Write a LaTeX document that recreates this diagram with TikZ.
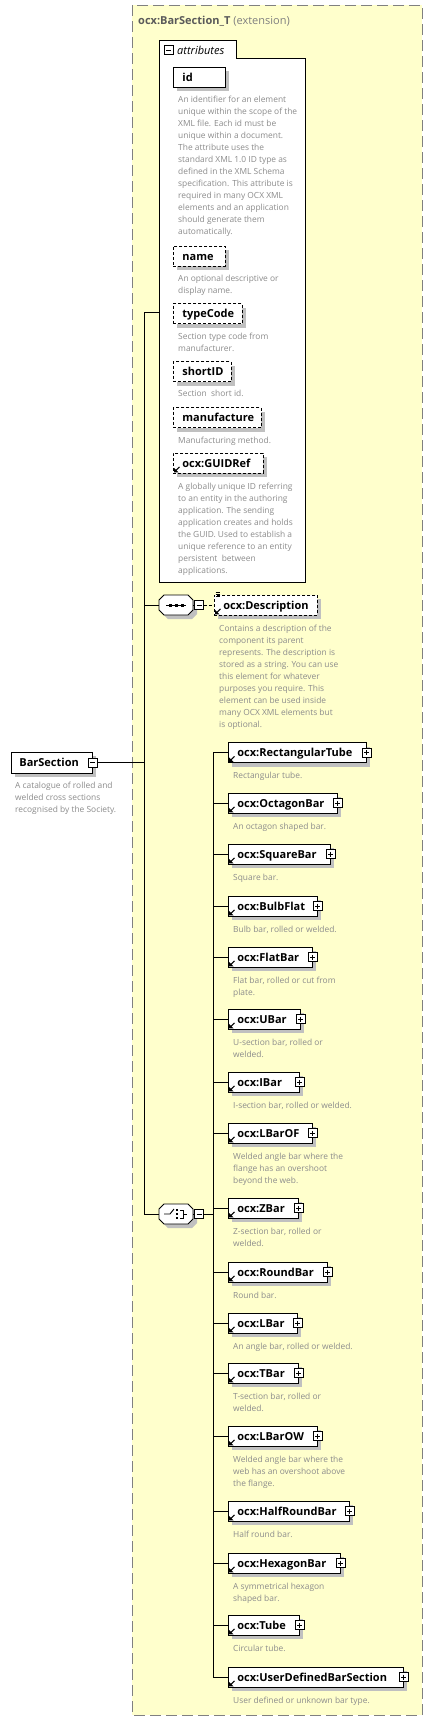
\documentclass[tikz,border=0pt]{standalone}
\usepackage{fontspec}
\setmainfont{Open Sans}
\usetikzlibrary{shadows,calc}
\definecolor{bgyellow}{RGB}{255,255,204}
\definecolor{framegray}{RGB}{128,128,128}
\definecolor{shgray}{RGB}{192,192,192}
\definecolor{descgray}{RGB}{140,140,140}
\definecolor{titlegray}{RGB}{90,90,90}
\definecolor{extgray}{RGB}{128,128,128}

\newcommand\xsdplus[1]{%
  \begin{scope}[shift={(#1.east)}]
    \draw[icon] (-4.5,-4.5) rectangle (4.5,4.5);
    \draw[iconline] (-2.5,0) -- (2.5,0) (0,-2.5) -- (0,2.5);
  \end{scope}}
\newcommand\xsdminus[1]{%
  \begin{scope}[shift={(#1.center)}]
    \draw[iconline] (-2.5,0) -- (2.5,0);
  \end{scope}}
\newcommand\xsdlink[1]{%
  \begin{scope}[shift={(#1.south west)}]
    \fill (1,-1) -- (5.5,-1) -- (1,-5.5) -- cycle;
    \draw[line width=1.1pt] (2.5,-2.5) -- (6.5,-6.5);
  \end{scope}}
\newcommand\xsddesc[4]{%
  \node[desc] (#1) at (#2,{#3-6.1}) {\strut #4};}
\newcommand\xsdchild[5]{%
  \pgfmathsetmacro\xsdw{#4-228}%
  \pgfmathsetmacro\xsdtw{#4-246}%
  \coordinate (bus-#1) at (213,#3);
  \node[elembox, minimum width=\xsdw pt, text width=\xsdtw pt] (#1) at (228,#3) {#2};
  \xsdlink{#1}
  \xsdplus{#1}
  \draw[conn] (bus-#1) -- (#1.west);
  \xsddesc{#1-d}{233}{#3+23.5}{#5}}
\newcommand\xsdoct[1]{%
  \begin{scope}[shift={(#1.center)}]
    \fill[shgray] (-8,-6)--(16,-6)--(21,-1)--(21,9)--(16,14)--(-8,14)--(-13,9)--(-13,-1)--cycle;
    \draw[fill=white, line width=0.8pt] (-12,-10)--(12,-10)--(17,-5)--(17,5)--(12,10)--(-12,10)--(-17,5)--(-17,-5)--cycle;
  \end{scope}}

\begin{document}
\begin{tikzpicture}[x=1pt,y=-1pt,
  conn/.style={draw=black, line width=0.9pt},
  icon/.style={draw=black, fill=white, line width=0.8pt},
  iconline/.style={line width=0.8pt},
  elembox/.style={draw=black, fill=white, line width=0.8pt,
    general shadow={fill=shgray, shadow xshift=4pt, shadow yshift=-4pt},
    anchor=west, minimum height=20pt, inner xsep=9pt, inner ysep=0pt,
    text height=8pt, text depth=0pt, align=left,
    font=\fontsize{11}{13}\selectfont\bfseries},
  optbox/.style={elembox, dash pattern=on 3pt off 2pt},
  desc/.style={anchor=north west, inner sep=0pt, align=left, text=descgray,
    font=\fontsize{8.4}{12}\selectfont},
  hub/.style={minimum width=34pt, minimum height=20pt, inner sep=0pt},
  sq/.style={draw=black, fill=white, line width=0.8pt, minimum size=9pt, inner sep=0pt}
]
\useasboundingbox (0,0) rectangle (432,1722);
\fill[white] (0,0) rectangle (432,1722);
\draw[fill=bgyellow, draw=framegray, line width=1pt, dash pattern=on 11pt off 5pt] (132,5) rectangle (422,1715);
\node[anchor=base west, inner sep=0pt, font=\fontsize{11}{13}\selectfont] (title) at (138,24)
  {\textcolor{titlegray}{\bfseries ocx:BarSection\_T} \textcolor{extgray}{(extension)}};

% attributes frame
\node[minimum width=146pt, minimum height=542pt, anchor=north west, inner sep=0pt] (attrs) at (159,40) {};
\draw[fill=white, line width=0.8pt] (159,40) -- (236,40) -- (236,58) -- (305,58) -- (305,582) -- (159,582) -- cycle;
\node[sq] (attrm) at (168.5,50) {};
\xsdminus{attrm}
\node[anchor=west, inner sep=0pt, font=\fontsize{11}{13}\selectfont\itshape] (attrlbl) at (177,50) {attributes};

\node[elembox, minimum width=52pt, text width=34pt] (id) at (173,77) {id};
\xsddesc{id-d}{178}{100}{An identifier for an element\\unique within the scope of the\\XML file. Each id must be\\unique within a document.\\The attribute uses the\\standard XML 1.0 ID type as\\defined in the XML Schema\\specification. This attribute is\\required in many OCX XML\\elements and an application\\should generate them\\automatically.}
\node[optbox, minimum width=52pt, text width=34pt] (name) at (173,256) {name};
\xsddesc{name-d}{178}{279}{An optional descriptive or\\display name.}
\node[optbox, minimum width=69pt, text width=51pt] (typeCode) at (173,313.5) {typeCode};
\xsddesc{typeCode-d}{178}{337}{Section type code from\\manufacturer.}
\node[optbox, minimum width=58pt, text width=40pt] (shortID) at (173,371.5) {shortID};
\xsddesc{shortID-d}{178}{394}{Section\ \ short id.}
\node[optbox, minimum width=88pt, text width=70pt] (manufacture) at (173,417.5) {manufacture};
\xsddesc{manufacture-d}{178}{441}{Manufacturing method.}
\node[optbox, minimum width=90pt, text width=72pt] (guid) at (173,463) {ocx:GUIDRef};
\xsdlink{guid}
\xsddesc{guid-d}{178}{487}{A globally unique ID referring\\to an entity in the authoring\\application. The sending\\application creates and holds\\the GUID. Used to establish a\\unique reference to an entity\\persistent\ \ between\\applications.}

% main bus
\coordinate (bus-attr) at (144,312);
\coordinate (bus-seq) at (144,605);
\coordinate (bus-bs) at (144,762.5);
\coordinate (bus-ch) at (144,1214);
\draw[conn] (bus-attr) -- (bus-ch);
\draw[conn] (bus-attr) -- (bus-attr -| attrs.west);

% sequence
\node[hub] (seq) at (176,605) {};
\xsdoct{seq}
\begin{scope}[shift={(seq.center)}]
  \draw[line width=0.9pt] (-10,0) -- (10,0);
  \fill (-7.5,-1.5) rectangle (-4.5,1.5);
  \fill (-1.5,-1.5) rectangle (1.5,1.5);
  \fill (4.5,-1.5) rectangle (7.5,1.5);
\end{scope}
\node[sq] (seqm) at (199,605) {};
\xsdminus{seqm}
\draw[conn] (bus-seq) -- (seq.west);
\draw[conn] (seq.east) -- (seqm.west);
\node[optbox, minimum width=103pt, text width=85pt] (descr) at (214,605) {ocx:Description};
\xsdlink{descr}
\begin{scope}[shift={(descr.north west)}]
  \draw[line width=0.6pt] (1.5,-2.5) -- (5.5,-2.5) (1.5,-0.5) -- (5.5,-0.5) (1.5,1.5) -- (5.5,1.5);
\end{scope}
\draw[conn, dash pattern=on 3pt off 2pt] (seqm.east) -- (descr.west);
\xsddesc{descr-d}{219}{629}{Contains a description of the\\component its parent\\represents. The description is\\stored as a string. You can use\\this element for whatever\\purposes you require. This\\element can be used inside\\many OCX XML elements but\\is optional.}

% BarSection
\node[elembox, minimum width=81pt, text width=65pt, inner xsep=8pt, minimum height=21pt] (bs) at (11,762.5) {BarSection};
\node[sq] (bsm) at (bs.east) {};
\xsdminus{bsm}
\draw[conn] (bsm.east) -- (bus-bs);
\xsddesc{bs-d}{15}{786}{A catalogue of rolled and\\welded cross sections\\recognised by the Society.}

% choice
\node[hub] (choice) at (176,1214) {};
\xsdoct{choice}
\begin{scope}[shift={(choice.center)}]
  \draw[line width=0.9pt] (-12,0) -- (-6,0) -- (-2,-5);
  \fill (0,-5) rectangle (2,-3);
  \fill (0,-1) rectangle (2,1);
  \fill (0,3) rectangle (2,5);
  \draw[line width=0.9pt] (4,-4) -- (7,-4) -- (7,4) -- (4,4) (7,0) -- (11,0);
\end{scope}
\node[sq] (chm) at (199,1214) {};
\xsdminus{chm}
\coordinate (chbus) at (213,1214);
\draw[conn] (bus-ch) -- (choice.west);
\draw[conn] (choice.east) -- (chm.west);
\draw[conn] (chm.east) -- (chbus);

\xsdchild{rect}{ocx:RectangularTube}{752.5}{366}{Rectangular tube.}
\xsdchild{oct}{ocx:OctagonBar}{803}{337}{An octagon shaped bar.}
\xsdchild{square}{ocx:SquareBar}{854}{330}{Square bar.}
\xsdchild{bulb}{ocx:BulbFlat}{906}{317}{Bulb bar, rolled or welded.}
\xsdchild{flat}{ocx:FlatBar}{957}{312}{Flat bar, rolled or cut from\\plate.}
\xsdchild{ubar}{ocx:UBar}{1019}{300}{U-section bar, rolled or\\welded.}
\xsdchild{ibar}{ocx:IBar}{1082}{299}{I-section bar, rolled or welded.}
\xsdchild{lbarof}{ocx:LBarOF}{1133}{312}{Welded angle bar where the\\flange has an overshoot\\beyond the web.}
\xsdchild{zbar}{ocx:ZBar}{1208}{298}{Z-section bar, rolled or\\welded.}
\xsdchild{round}{ocx:RoundBar}{1272}{327}{Round bar.}
\xsdchild{lbar}{ocx:LBar}{1323}{297}{An angle bar, rolled or welded.}
\xsdchild{tbar}{ocx:TBar}{1373}{298}{T-section bar, rolled or\\welded.}
\xsdchild{lbarow}{ocx:LBarOW}{1436}{317}{Welded angle bar where the\\web has an overshoot above\\the flange.}
\xsdchild{halfround}{ocx:HalfRoundBar}{1511}{349}{Half round bar.}
\xsdchild{hex}{ocx:HexagonBar}{1563}{340}{A symmetrical hexagon\\shaped bar.}
\xsdchild{tube}{ocx:Tube}{1625}{299}{Circular tube.}
\xsdchild{user}{ocx:UserDefinedBarSection}{1677}{403}{User defined or unknown bar type.}

\draw[conn] (bus-rect) -- (bus-user);
\end{tikzpicture}
\end{document}
